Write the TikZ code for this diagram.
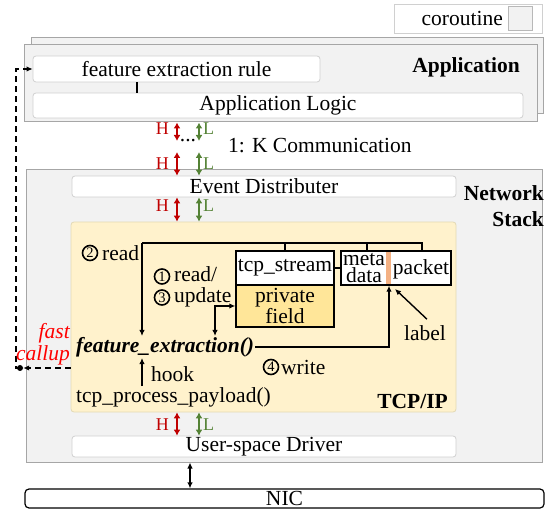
\documentclass[tikz,border=0pt]{standalone}
\usepackage{fontspec}
\setmainfont{Liberation Serif}
\usetikzlibrary{arrows.meta}
\definecolor{appgray}{HTML}{F2F2F2}
\definecolor{edgegray}{HTML}{A6A6A6}
\definecolor{boxedge}{HTML}{D0D0D0}
\definecolor{tcpfill}{HTML}{FFF2CC}
\definecolor{tcpedge}{HTML}{E3D9B5}
\definecolor{pffill}{HTML}{FFE699}
\definecolor{stripcol}{HTML}{F4B183}
\definecolor{hred}{HTML}{C00000}
\definecolor{lgreen}{HTML}{548235}
\newcommand\mainfs{\fontsize{21.5}{22}\selectfont}
\begin{document}
\begin{tikzpicture}[x=1pt,y=-1pt, font=\mainfs,
 layer/.style={draw=edgegray, fill=appgray, line width=1pt, inner sep=0pt},
 wbox/.style={draw=boxedge, fill=white, rounded corners=3pt, line width=0.8pt, inner sep=0pt},
 sbox/.style={draw=black, line width=1.4pt, inner sep=0pt, fill=white},
 txt/.style={inner sep=1pt},
 cnode/.style={circle, draw=black, line width=1.6pt, inner sep=0pt, minimum size=15pt, font=\fontsize{14.5}{14.5}\selectfont},
 conn/.style={line width=1.4pt},
 arr/.style={conn, -{Latex[length=6pt,width=5.5pt]}},
 darr/.style={conn, {Latex[length=6pt,width=5.5pt]}-{Latex[length=6pt,width=5.5pt]}},
 harr/.style={line width=1.8pt, hred, {Latex[length=6pt,width=7pt]}-{Latex[length=6pt,width=7pt]}},
 larr/.style={line width=1.8pt, lgreen, {Latex[length=6pt,width=7pt]}-{Latex[length=6pt,width=7pt]}},
 hlab/.style={font=\fontsize{18}{18}\selectfont, inner sep=0pt, text=hred},
 llab/.style={font=\fontsize{18}{18}\selectfont, inner sep=0pt, text=lgreen},
 dsh/.style={line width=1.4pt, dash pattern=on 6pt off 4pt},
]
\useasboundingbox (0,0) rectangle (546,510);

% legend
\node[draw=boxedge, fill=white, minimum width=148pt, minimum height=29pt, inner sep=0pt] (legend) at (468,18.5) {};
\node[txt, anchor=east] (corlabel) at (504,18) {coroutine};
\node[draw=edgegray!80, fill=appgray, minimum width=24pt, minimum height=24pt, inner sep=0pt] (corsq) at (520,18) {};

% application layer
\node[layer, minimum width=512pt, minimum height=76pt] (appback) at (287,76) {};
\node[layer, minimum width=513pt, minimum height=77pt] (app) at (280.5,83.5) {};
\node[wbox, minimum width=287pt, minimum height=26pt] (fer) at (176.5,69) {feature extraction rule};
\node[wbox, minimum width=490pt, minimum height=25pt] (alogic) at (278,105.5) {Application Logic};
\coordinate (tick) at (137,0);
\draw[conn] (fer.south -| tick) -- (alogic.north -| tick);
\node[txt, anchor=east, font=\mainfs\bfseries] (apptitle) at (521,67) {Application};

% communication arrows
\coordinate (hx) at (177,0);
\coordinate (lx) at (199,0);
\node[txt] (dots) at (188,141) {...};
\node[txt, anchor=west] (comm) at (227,146) {1: K Communication};
\draw[harr] (hx |- app.south) -- (177,141);
\draw[larr] (lx |- app.south) -- (199,141);
\node[hlab, anchor=east] (h1) at (169,129) {H};
\node[llab, anchor=west] (l1) at (203,129) {L};

% network stack
\node[layer, minimum width=516pt, minimum height=292pt] (ns) at (284,316) {};
\node[txt, anchor=east, font=\mainfs\bfseries] (nst1) at (545,193) {Network};
\node[txt, anchor=east, font=\mainfs\bfseries] (nst2) at (545,219) {Stack};
\node[wbox, minimum width=384pt, minimum height=21pt] (ed) at (264,186.5) {Event Distributer};
\node[draw=tcpedge, fill=tcpfill, rounded corners=3pt, line width=0.8pt, minimum width=385pt, minimum height=190pt, inner sep=0pt] (tcp) at (263.5,317) {};
\node[wbox, minimum width=384pt, minimum height=21pt] (drv) at (264,446.5) {User-space Driver};

\draw[harr] (177,152) -- (hx |- ed.north);
\draw[larr] (199,152) -- (lx |- ed.north);
\node[hlab, anchor=east] (h2) at (169,164) {H};
\node[llab, anchor=west] (l2) at (203,164) {L};
\draw[harr] (hx |- ed.south) -- (hx |- tcp.north);
\draw[larr] (lx |- ed.south) -- (lx |- tcp.north);
\node[hlab, anchor=east] (h3) at (169,206) {H};
\node[llab, anchor=west] (l3) at (203,206) {L};
\draw[harr] (hx |- tcp.south) -- (hx |- drv.north);
\draw[larr] (lx |- tcp.south) -- (lx |- drv.north);
\node[hlab, anchor=east] (h4) at (169,425) {H};
\node[llab, anchor=west] (l4) at (203,425) {L};

% NIC
\node[draw=black, line width=1.2pt, rounded corners=4pt, fill=white, minimum width=519pt, minimum height=19pt, inner sep=0pt] (nic) at (284.5,498.5) {NIC};
\coordinate (nx) at (190,0);
\draw[darr] (nx |- ns.south) -- (nx |- nic.north);

% TCP/IP internals
\node[sbox, minimum width=98pt, minimum height=34pt] (ts) at (285,268) {tcp\_stream};
\node[sbox, fill=pffill, minimum width=98pt, minimum height=42pt, align=center, font=\fontsize{21.5}{18}\selectfont] (pf) at (285,306) {private\\field};
\node[sbox, minimum width=110pt, minimum height=34pt] (mp) at (396,268) {};
\fill[stripcol] (386,251.7) rectangle (391,284.3);
\node[inner sep=0pt, align=center, font=\fontsize{21.5}{17}\selectfont] (meta) at (364,268) {meta\\data};
\node[txt] (pkt) at (421,269) {packet};
\draw[conn] (ts.east) -- (mp.west);

\coordinate (busL) at (142,243);
\coordinate (busR) at (422,243);
\coordinate (mx) at (367,0);
\draw[conn] (busL) -- (busR) -- (busR |- mp.north);
\draw[conn] (ts.north |- busL) -- (ts.north);
\draw[conn] (mx |- busL) -- (mx |- mp.north);

\node[txt, anchor=west, font=\mainfs\bfseries\itshape] (fe) at (75,347) {feature\_extraction()};
\draw[arr] (busL) -- (busL |- fe.north);

\node[cnode] (c2) at (90,253) {2};
\node[inner sep=0pt, anchor=west] (r2) at (102,253) {read};
\node[cnode] (c1) at (162,276.5) {1};
\node[cnode] (c3) at (162,297.5) {3};
\node[inner sep=0pt, anchor=west, align=left, font=\fontsize{21.5}{21}\selectfont] (r13) at (174,287) {read/\\update};

\coordinate (elb) at (215,306);
\draw[darr] (elb |- fe.north) -- (elb) -- (pf.west |- elb);

\coordinate (wx) at (389,0);
\draw[arr] (fe.east) -| (wx |- mp.south);
\node[cnode] (c4) at (271,367) {4};
\node[inner sep=0pt, anchor=west] (w4) at (281,367) {write};

\node[txt] (lbl) at (425,333) {label};
\coordinate (lbltip) at (395,289);
\draw[arr] ([shift={(2pt,5pt)}]lbl.north) -- (lbltip);

\node[txt, anchor=west] (tpp) at (75,397) {tcp\_process\_payload()};
\draw[arr] (busL |- tpp.north) -- (busL |- fe.south);
\node[txt, anchor=west] (hook) at (150,374) {hook};
\node[txt, anchor=east, font=\mainfs\bfseries] (tcpt) at (449,401) {TCP/IP};

% fast callup
\node[circle, fill=black, inner sep=0pt, minimum size=6pt] (dot) at (20,368) {};
\draw[dsh, -{Latex[length=6pt,width=5.5pt]}] (tcp.west |- dot) -- (dot.east);
\coordinate (cup) at (16,69);
\draw[dsh, -{Latex[length=6pt,width=5.5pt]}] (dot.center) -| (cup) -- (fer.west);
\node[txt, anchor=east, text=red, font=\mainfs\itshape] (fast1) at (71,333) {fast};
\node[txt, anchor=east, text=red, font=\mainfs\itshape] (fast2) at (71,355) {callup};
\end{tikzpicture}
\end{document}
